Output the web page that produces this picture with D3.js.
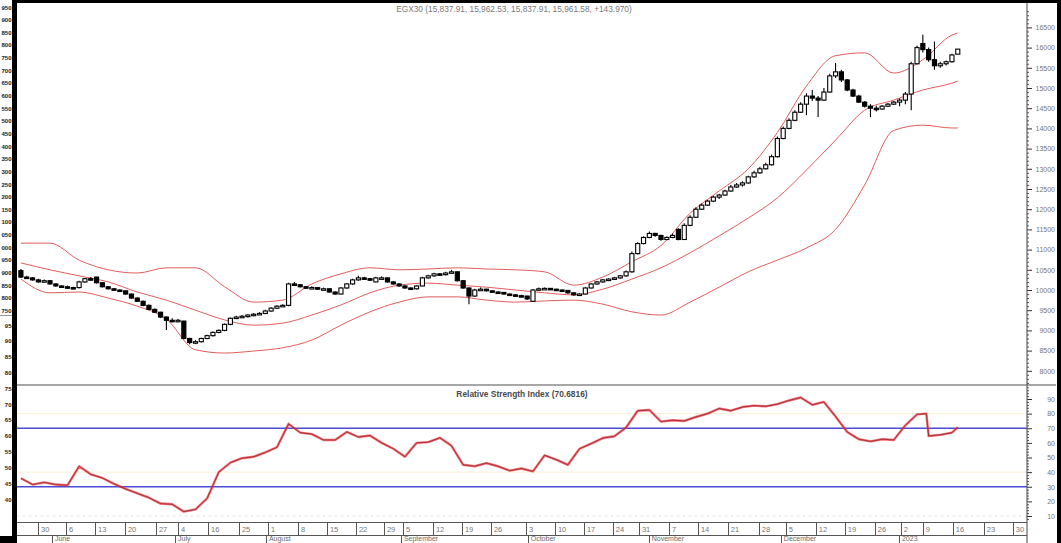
<!DOCTYPE html>
<html><head><meta charset="utf-8">
<script src="https://cdn.jsdelivr.net/npm/d3@7"></script>
<style>html,body{margin:0;padding:0;background:#fff;overflow:hidden}svg{display:block}text{font-family:"Liberation Sans",Arial,sans-serif}</style>
</head><body><svg id="c" width="1061" height="543"></svg>
<script>
// ---------- DATA ----------
const titleText = "EGX30 (15,837.91, 15,962.53, 15,837.91, 15,961.58, +143.970)";
const rsiTitle = "Relative Strength Index (70.6816)";

const open = [10480,10320,10300,10250,10200,10230,10150,10100,10080,10060,
10060,10200,10280,10320,10180,10080,10030,10000,9980,9900,
9800,9720,9620,9520,9450,9330,9250,9230,9230,8800,
8700,8720,8800,8870,8950,9000,9150,9300,9330,9340,
9380,9400,9420,9480,9550,9600,9620,10150,10130,10080,
10050,10060,10020,10030,9950,9900,10050,10150,10250,10300,
10280,10200,10300,10300,10200,10150,10100,10050,10030,10100,
10300,10350,10400,10380,10420,10450,10230,10050,9850,10000,
10020,9980,9950,9940,9900,9880,9860,9850,9720,10000,
10030,10040,10020,10000,9990,9930,9880,9900,10050,10150,
10200,10250,10270,10300,10350,10450,10900,11150,11300,11400,
11350,11250,11300,11500,11250,11600,11800,12000,12100,12200,
12300,12350,12450,12550,12600,12650,12800,12900,13000,13100,
13300,13750,14000,14200,14400,14600,14800,14750,14700,14900,
15300,15400,15200,14950,14800,14650,14550,14500,14480,14550,
14600,14650,14700,14850,15600,16100,15950,15700,15550,15600,
15650,15838];
const high = [10520,10350,10320,10280,10260,10240,10170,10120,10110,10080,
10230,10300,10320,10330,10190,10100,10050,10020,9990,9910,
9820,9740,9640,9540,9460,9350,9300,9280,9240,8820,
8760,8820,8890,8970,9020,9170,9320,9360,9380,9400,
9430,9450,9510,9570,9620,9650,10180,10200,10150,10100,
10090,10070,10060,10040,9960,10070,10170,10280,10350,10330,
10300,10330,10340,10310,10220,10170,10120,10070,10120,10330,
10380,10430,10420,10450,10500,10460,10240,10060,10030,10060,
10030,9990,9970,9950,9920,9900,9880,9860,10020,10060,
10060,10050,10030,10010,10000,9940,9920,10070,10170,10220,
10270,10290,10320,10370,10480,10950,11180,11330,11450,11420,
11370,11330,11400,11530,11650,11850,12050,12150,12230,12330,
12380,12480,12600,12650,12690,12830,12950,13050,13150,13350,
13800,14050,14250,14450,14650,14870,14950,14800,15000,15350,
15620,15450,15220,14980,14830,14680,14600,14560,14580,14630,
14680,14740,14900,15650,16050,16320,16000,16150,15650,15680,
15850,15963];
const low = [10300,10270,10230,10180,10190,10130,10080,10060,10040,10030,
10040,10180,10230,10160,10060,10010,9980,9960,9880,9780,
9700,9600,9500,9430,9310,9010,9200,9200,8780,8660,
8660,8700,8780,8850,8930,8980,9130,9280,9310,9320,
9350,9380,9400,9460,9530,9580,9600,10100,10060,10030,
10030,10000,10000,9930,9880,9890,10030,10130,10230,10250,
10220,10190,10270,10180,10130,10080,10030,10000,10010,10090,
10280,10330,10350,10360,10400,10210,10030,9650,9830,9990,
9960,9930,9920,9880,9860,9840,9830,9750,9700,9990,
10010,10000,9980,9970,9910,9860,9860,9890,10040,10130,
10180,10230,10250,10280,10330,10430,10880,11130,11280,11320,
11220,11230,11280,11230,11240,11580,11780,11980,12080,12180,
12250,12330,12430,12530,12560,12630,12780,12880,12980,13080,
13280,13730,13980,14180,14380,14330,14680,14280,14680,14880,
15250,15150,14920,14780,14630,14520,14280,14420,14460,14530,
14580,14550,14600,14450,15580,15880,15650,15450,15500,15560,
15630,15838];
const close = [10320,10300,10250,10200,10230,10150,10100,10080,10060,10050,
10200,10280,10250,10180,10080,10030,10000,9980,9900,9800,
9720,9620,9520,9450,9330,9250,9230,9250,8800,8700,
8720,8800,8870,8950,9000,9150,9300,9330,9350,9380,
9400,9420,9480,9550,9600,9620,10150,10130,10080,10050,
10060,10020,10030,9950,9900,10050,10150,10250,10300,10280,
10250,10300,10300,10200,10150,10100,10050,10030,10100,10300,
10350,10400,10380,10420,10450,10230,10050,9850,10000,10020,
9980,9950,9940,9900,9880,9860,9850,9780,10000,10030,
10040,10020,10000,9990,9930,9880,9900,10050,10150,10200,
10250,10270,10300,10350,10450,10900,11150,11300,11400,11350,
11250,11300,11350,11250,11600,11800,12000,12100,12200,12300,
12350,12450,12550,12600,12650,12800,12900,13000,13100,13300,
13750,14000,14200,14400,14600,14800,14750,14700,14900,15300,
15400,15200,14950,14800,14650,14550,14500,14480,14550,14600,
14650,14700,14850,15600,16000,15950,15700,15550,15600,15650,
15818,15962];

// Bollinger bands, read every 5th session (plus last)
const bandIdx = [0,5,10,15,20,25,30,35,40,45,50,55,60,65,70,75,80,85,90,95,100,105,110,115,120,125,130,135,140,145,150,155,160,161];
const bbUpper = [11160,11160,10740,10500,10420,10550,10550,10080,9700,9750,10150,10400,10550,10500,10520,10550,10520,10500,10450,10120,10320,10700,11100,11900,12450,13000,13900,15050,15800,15870,15370,15700,16310,16360];
const bbMiddle = [10670,10500,10350,10200,9950,9750,9500,9260,9130,9180,9380,9630,9930,10120,10170,10120,10070,10000,9930,9880,10020,10270,10550,10920,11340,11780,12280,12970,13710,14450,14700,14950,15120,15170];
const bbLower = [10270,9930,9950,9800,9600,9280,8520,8440,8490,8570,8760,9130,9460,9700,9830,9830,9750,9700,9730,9750,9650,9460,9380,9700,10070,10450,10740,11040,11500,12600,13950,14080,14010,14010];

// RSI, read every 2nd session (plus last)
const rsiIdx = [0,2,4,6,8,10,12,14,16,18,20,22,24,26,28,30,32,34,36,38,40,42,44,46,48,50,52,54,56,58,60,62,64,66,68,70,72,74,76,78,80,82,84,86,88,90,92,94,96,98,100,102,104,106,108,110,112,114,116,118,120,122,124,126,128,130,132,134,136,138,140,142,144,146,148,150,152,154,155.6,156,158,160,161];
const rsiVal = [35.8,31.5,33,31.5,31,44,38.5,36,32,28.5,25.5,22.5,18.5,18,13,14.5,22,40,46.5,49.5,50.5,53.5,57,73,67,66,62,62,67.5,64,65,60,56,50.5,60,60.5,63.5,58,45,44,46.2,44,41,42.5,40.5,51.5,48.5,45,56,59.5,63.3,64.5,70.5,82,82.5,74.5,75.5,75,77.7,80,83.5,82,84.5,85.5,85,86.5,89,91,86,88,78,67.5,62.5,61,62.5,62,72,79.5,80,64.7,65.5,67,70.68];
const rsiLevels = [30, 70];

const priceTicks = [8000,8500,9000,9500,10000,10500,11000,11500,12000,12500,13000,13500,14000,14500,15000,15500,16000,16500];
const rsiTicks = [10,20,30,40,50,60,70,80,90];

// date axis (positions in session units)
const dayTickPos = [2.94,7.75,12.73,17.88,23.21,26.99,32.15,37.47,42.46,47.61,52.59,57.58,62.39,65.65,70.81,75.79,80.77,86.79,91.77,96.75,101.73,106.2,111.36,116.34,121.49,126.82,131.46,136.61,141.6,146.75,151.22,155,160.15,165.48,170.46];
const dayTickLabels = ["30","6","13","20","27","4","16","25","1","8","15","22","29","5","12","19","26","3","10","17","24","31","7","14","21","28","5","12","19","26","2","9","16","23","30"];
const monthPos = [5.34,26.5,42.1,65.3,87.1,107.9,130.6,150.9];
const monthLabels = ["June","July","August","September","October","November","December","2023"];

// cropped left-hand labels of the original picture
const leftPriceLabels = ["950","900","850","800","750","700","650","600","550","500","450","400","350","300","250","200","150","100","050","000","950","900","850","800","750"];
const leftRsiLabels = ["95","90","85","80","75","70","65","60","55","50","45","40"];

// ---------- DRAW ----------
const svg = d3.select("#c");
svg.append("rect").attr("width",1061).attr("height",543).attr("fill","#fff");

const L = 17, R = 1027, PT = 3, PB = 385, RB = 522;
const x = d3.scaleLinear().domain([-0.5, 172.9]).range([18, 1027]);
const y = d3.scaleLinear().domain([8000,16500]).range([370.8, 27.4]);
const yr = d3.scaleLinear().domain([10,90]).range([516,399]);

const defs = svg.append("defs");
defs.append("clipPath").attr("id","cp").append("rect").attr("x",L).attr("y",PT).attr("width",R-L).attr("height",PB-PT);
defs.append("clipPath").attr("id","cr").append("rect").attr("x",L).attr("y",PB).attr("width",R-L).attr("height",RB-PB);

// title
svg.append("text").attr("x",514).attr("y",12).attr("text-anchor","middle")
  .attr("font-size",8.3).attr("fill","#7a7a7a").text(titleText);

// Bollinger bands
const pg = svg.append("g").attr("clip-path","url(#cp)");
const bandLine = arr => d3.line().x((d,i)=>x(bandIdx[i])).y(d=>y(d)).curve(d3.curveMonotoneX)(arr);
[bbUpper,bbMiddle,bbLower].forEach(b=>{
  pg.append("path").attr("d",bandLine(b)).attr("fill","none")
    .attr("stroke","#e04a4a").attr("stroke-width",1).attr("opacity",0.9);
});

// candles
const idx = d3.range(close.length);
const bw = 4.1;
const cg = pg.append("g");
cg.selectAll("line.w").data(idx).join("line")
  .attr("x1",i=>x(i)).attr("x2",i=>x(i))
  .attr("y1",i=>y(high[i])).attr("y2",i=>y(low[i]))
  .attr("stroke","#000").attr("stroke-width",1.1);
cg.selectAll("rect.b").data(idx).join("rect")
  .attr("x",i=>x(i)-bw/2).attr("width",bw)
  .attr("y",i=>y(Math.max(open[i],close[i])))
  .attr("height",i=>Math.max(1.5,Math.abs(y(open[i])-y(close[i]))))
  .attr("fill",i=>close[i]>=open[i]?"#fff":"#000")
  .attr("stroke","#000").attr("stroke-width",1.1);

// RSI panel
const rg = svg.append("g").attr("clip-path","url(#cr)");
[80,40].forEach(v=>rg.append("line").attr("x1",L).attr("x2",R).attr("y1",yr(v)).attr("y2",yr(v))
  .attr("stroke","#fbf1d2").attr("stroke-width",1));
rg.append("line").attr("x1",L).attr("x2",R).attr("y1",yr(10)).attr("y2",yr(10))
  .attr("stroke","#ddd").attr("stroke-dasharray","2,4").attr("stroke-width",1);
rg.selectAll("line.lv").data(rsiLevels).join("line")
  .attr("x1",L).attr("x2",R).attr("y1",d=>yr(d)).attr("y2",d=>yr(d))
  .attr("stroke","#4b4bd6").attr("stroke-width",1.3);
const rsiPath = d3.line().x((d,i)=>x(rsiIdx[i])).y(d=>yr(d))(rsiVal);
rg.append("path").attr("d",rsiPath).attr("fill","none").attr("stroke","#f03a44").attr("stroke-width",2.4).attr("opacity",0.75).attr("stroke-linejoin","round");
rg.append("path").attr("d",rsiPath).attr("fill","none").attr("stroke","#8a1a1a").attr("stroke-width",0.9).attr("opacity",0.8).attr("stroke-linejoin","round");
svg.append("text").attr("x",522).attr("y",396.5).attr("text-anchor","middle")
  .attr("font-size",8.4).attr("font-weight","bold").attr("fill","#4a4a4a").text(rsiTitle);

// panel separators
svg.append("line").attr("x1",L).attr("x2",1056).attr("y1",PB).attr("y2",PB).attr("stroke","#8a8a8a").attr("stroke-width",1.4);

// right axis: price
const minorP = d3.range(7700,17001,100).filter(v=>v%500!==0 && y(v)>5 && y(v)<PB-1);
svg.append("g").attr("transform",`translate(${R},0)`)
  .call(d3.axisRight(y).tickValues(minorP).tickSize(2).tickFormat(""))
  .call(g=>g.select(".domain").remove())
  .selectAll("line").attr("stroke","#555");
const pa = svg.append("g").attr("transform",`translate(${R},0)`)
  .call(d3.axisRight(y).tickValues(priceTicks).tickSize(5).tickFormat(d3.format("d")));
pa.select(".domain").remove();
pa.selectAll("line").attr("stroke","#333");
pa.selectAll("text").attr("x",28).attr("text-anchor","end").attr("font-size",7)
  .attr("fill","#777").attr("font-family","Liberation Sans, Arial, sans-serif");

// right axis: RSI
const minorR = d3.range(2,100,2).filter(v=>v%10!==0 && yr(v)>PB+1 && yr(v)<RB-1);
svg.append("g").attr("transform",`translate(${R},0)`)
  .call(d3.axisRight(yr).tickValues(minorR).tickSize(2).tickFormat(""))
  .call(g=>g.select(".domain").remove())
  .selectAll("line").attr("stroke","#555");
const ra = svg.append("g").attr("transform",`translate(${R},0)`)
  .call(d3.axisRight(yr).tickValues(rsiTicks).tickSize(5).tickFormat(d3.format("d")));
ra.select(".domain").remove();
ra.selectAll("line").attr("stroke","#333");
ra.selectAll("text").attr("x",28).attr("text-anchor","end").attr("font-size",7)
  .attr("fill","#777").attr("font-family","Liberation Sans, Arial, sans-serif");

svg.append("line").attr("x1",R).attr("x2",R).attr("y1",PT).attr("y2",543).attr("stroke","#444").attr("stroke-width",1);

// date axis
const dg = svg.append("g");
dg.append("line").attr("x1",L).attr("x2",R).attr("y1",RB+0.5).attr("y2",RB+0.5).attr("stroke","#555");
dg.append("line").attr("x1",L).attr("x2",R).attr("y1",535.5).attr("y2",535.5).attr("stroke","#555");
dg.selectAll("line.t").data(dayTickPos).join("line")
  .attr("x1",d=>Math.round(x(d))+0.5).attr("x2",d=>Math.round(x(d))+0.5)
  .attr("y1",RB).attr("y2",535).attr("stroke","#555");
dg.selectAll("text.t").data(dayTickLabels).join("text")
  .attr("x",(d,i)=>x(dayTickPos[i])+3).attr("y",532)
  .attr("font-size",7.5).attr("fill","#777").text(d=>d);
dg.selectAll("line.m").data(monthPos).join("line")
  .attr("x1",d=>Math.round(x(d))+0.5).attr("x2",d=>Math.round(x(d))+0.5)
  .attr("y1",535).attr("y2",543).attr("stroke","#555");
dg.selectAll("text.m").data(monthLabels).join("text")
  .attr("x",(d,i)=>x(monthPos[i])+3).attr("y",541.2)
  .attr("font-size",7).attr("fill","#6a6a6a").text(d=>d);

// cropped left labels
const lp = d3.scalePoint().domain(d3.range(leftPriceLabels.length)).range([9.5,313]);
svg.selectAll("text.lp").data(leftPriceLabels).join("text")
  .attr("x",11.5).attr("y",(d,i)=>lp(i)).attr("text-anchor","end")
  .attr("font-size",6).attr("font-weight","bold").attr("fill","#222").text(d=>d);
const lr = d3.scalePoint().domain(d3.range(leftRsiLabels.length)).range([327.5,501.5]);
svg.selectAll("text.lr").data(leftRsiLabels).join("text")
  .attr("x",11.5).attr("y",(d,i)=>lr(i)).attr("text-anchor","end")
  .attr("font-size",6).attr("font-weight","bold").attr("fill","#222").text(d=>d);
svg.append("line").attr("x1",0).attr("x2",12).attr("y1",315.5).attr("y2",315.5).attr("stroke","#999");

// black frame pieces
svg.append("rect").attr("x",12).attr("y",0).attr("width",1049).attr("height",3).attr("fill","#000");
svg.append("rect").attr("x",12).attr("y",0).attr("width",5).attr("height",543).attr("fill","#000");
svg.append("rect").attr("x",0).attr("y",536).attr("width",17).attr("height",7).attr("fill","#000");
svg.append("rect").attr("x",1057).attr("y",0).attr("width",4).attr("height",543).attr("fill","#000");
</script></body></html>
